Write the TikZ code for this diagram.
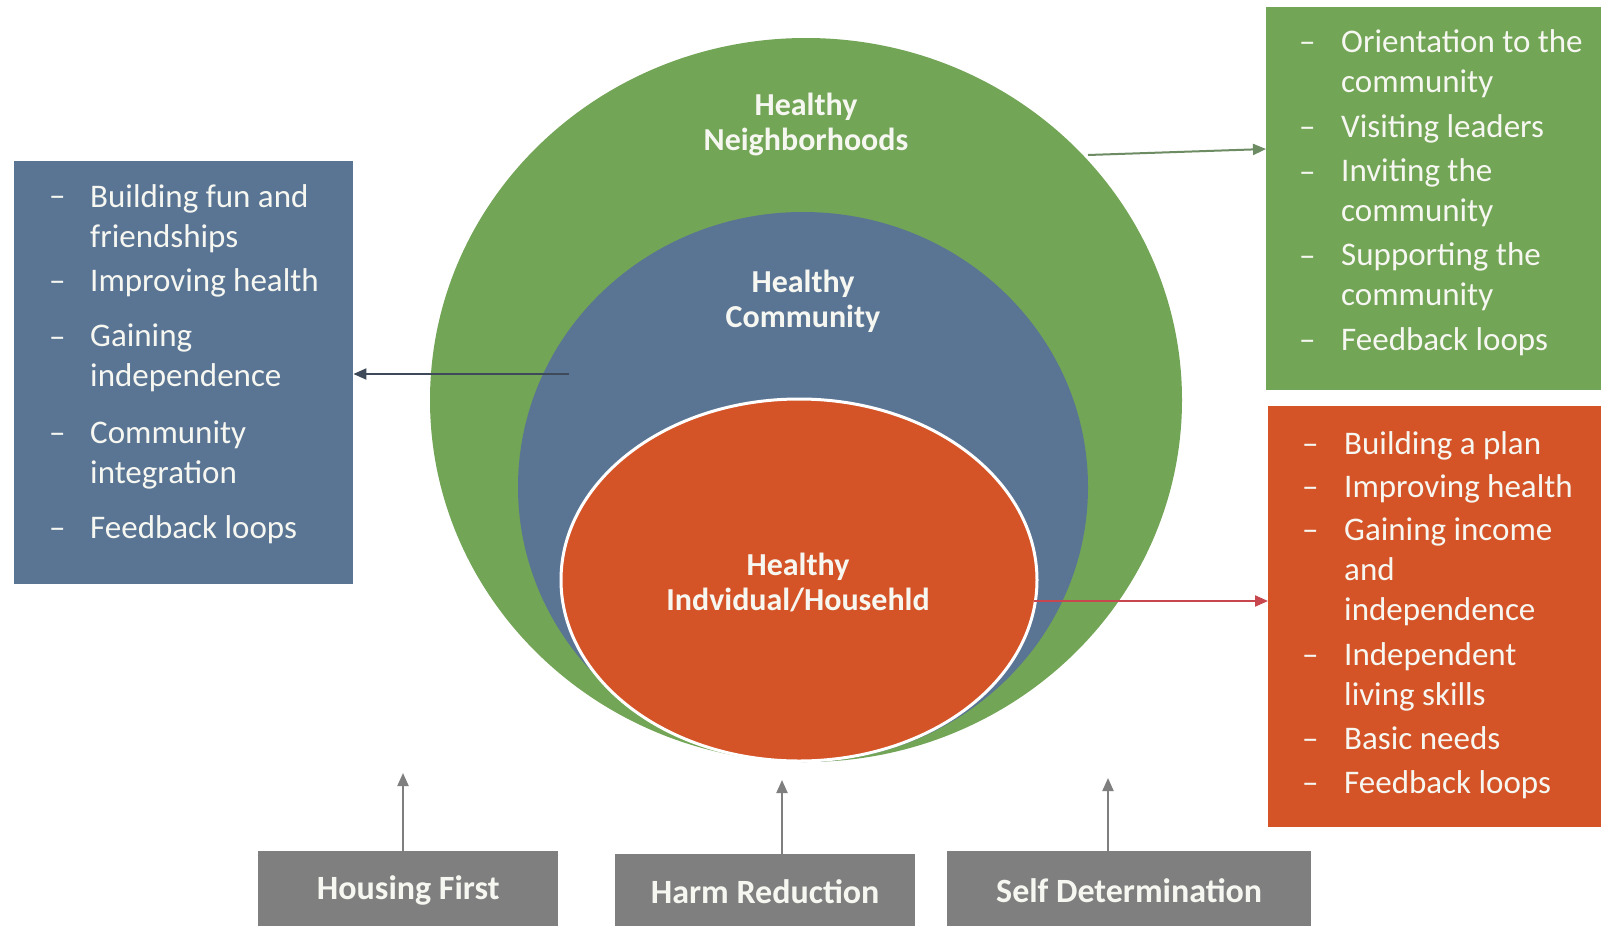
\documentclass[tikz,border=0pt]{standalone}
\usepackage{fontspec}
\setmainfont{Carlito}
\usetikzlibrary{shapes.geometric,arrows.meta,calc}
\definecolor{cgreen}{HTML}{72A556}
\definecolor{cblue}{HTML}{5A7594}
\definecolor{cred}{HTML}{D45428}
\definecolor{cgray}{HTML}{7F7F7F}
\definecolor{ctext}{HTML}{F7F7F2}
\definecolor{agreen}{HTML}{6E8C64}
\definecolor{ablue}{HTML}{3E4A5A}
\definecolor{ared}{HTML}{C8474F}
\begin{document}
\begin{tikzpicture}[x=1pt,y=-1pt,
  bigell/.style={ellipse, inner sep=0pt, draw=none},
  listbox/.style={rectangle, anchor=north west, inner sep=0pt, draw=none},
  itemtext/.style={anchor=base west, align=left, inner sep=0pt, text=ctext, font=\fontsize{33}{40}\selectfont},
  itemdash/.style={anchor=base west, inner sep=0pt, text=ctext, font=\fontsize{33}{40}\selectfont},
  clabel/.style={align=center, inner sep=0pt, text=ctext, font=\bfseries\fontsize{32}{35}\selectfont},
  graybox/.style={rectangle, anchor=north west, fill=cgray, inner sep=0pt, text=ctext, font=\bfseries\fontsize{34}{40}\selectfont},
  conn/.style={line width=2pt, -{Triangle[length=13pt,width=11pt]}}
]
\useasboundingbox (0,0) rectangle (1601,926);
\fill[white] (0,0) rectangle (1601,926);

% nested ellipses
\node[bigell, fill=cgreen, minimum width=752pt, minimum height=724pt] (gcirc) at (806,400) {};
\node[bigell, fill=cblue, minimum width=570pt, minimum height=550pt] (bcirc) at (803,487) {};
\node[bigell, fill=cred, draw=white, line width=3pt, minimum width=476pt, minimum height=362pt] (rcirc) at (799,580) {};

\node[clabel] (lgreen) at (806,124) {Healthy\\Neighborhoods};
\node[clabel] (lblue) at (803,301) {Healthy\\Community};
\node[clabel] (lred) at (798,582) {Healthy\\Indvidual/Househld};

% side boxes
\node[listbox, fill=cblue, minimum width=339pt, minimum height=423pt] (bbox) at (14,161) {};
\node[listbox, fill=cgreen, minimum width=335pt, minimum height=383pt] (gbox) at (1266,7) {};
\node[listbox, fill=cred, minimum width=333pt, minimum height=421pt] (rbox) at (1268,406) {};

% blue list (multi-line texts are placed by the baseline of their last line)
\node[itemdash] (bd1) at (49,206) {–};
\node[itemtext] (bt1) at (90,247) {Building fun and\\friendships};
\node[itemdash] (bd2) at (49,291) {–};
\node[itemtext] (bt2) at (90,291) {Improving health};
\node[itemdash] (bd3) at (49,347) {–};
\node[itemtext] (bt3) at (90,386) {Gaining\\independence};
\node[itemdash] (bd4) at (49,443) {–};
\node[itemtext] (bt4) at (90,483) {Community\\integration};
\node[itemdash] (bd5) at (49,538) {–};
\node[itemtext] (bt5) at (90,538) {Feedback loops};

% green list
\node[itemdash] (gd1) at (1299,52) {–};
\node[itemtext] (gt1) at (1341,92) {Orientation to the\\community};
\node[itemdash] (gd2) at (1299,137) {–};
\node[itemtext] (gt2) at (1341,137) {Visiting leaders};
\node[itemdash] (gd3) at (1299,182) {–};
\node[itemtext] (gt3) at (1341,221) {Inviting the\\community};
\node[itemdash] (gd4) at (1299,266) {–};
\node[itemtext] (gt4) at (1341,305) {Supporting the\\community};
\node[itemdash] (gd5) at (1299,350) {–};
\node[itemtext] (gt5) at (1341,350) {Feedback loops};

% red list
\node[itemdash] (rd1) at (1302,454) {–};
\node[itemtext] (rt1) at (1344,454) {Building a plan};
\node[itemdash] (rd2) at (1302,497) {–};
\node[itemtext] (rt2) at (1344,497) {Improving health};
\node[itemdash] (rd3) at (1302,540) {–};
\node[itemtext] (rt3) at (1344,620) {Gaining income\\and\\independence};
\node[itemdash] (rd4) at (1302,665) {–};
\node[itemtext] (rt4) at (1344,705) {Independent\\living skills};
\node[itemdash] (rd5) at (1302,749) {–};
\node[itemtext] (rt5) at (1344,749) {Basic needs};
\node[itemdash] (rd6) at (1302,793) {–};
\node[itemtext] (rt6) at (1344,793) {Feedback loops};

% principle boxes
\node[graybox, minimum width=300pt, minimum height=78pt] (hf) at (258,851) {Housing First};
\node[graybox, minimum width=300pt, minimum height=75pt] (hr) at (615,854) {Harm Reduction};
\node[graybox, minimum width=364pt, minimum height=78pt] (sd) at (947,851) {Self Determination};

% connectors
\coordinate (gs) at (1088,155);
\coordinate (ge) at ($(gbox.north west)+(0,142)$);
\draw[conn, agreen] (gs) -- (ge);
\coordinate (bs) at (569,374);
\draw[conn, ablue] (bs) -- (bbox.east |- bs);
\coordinate (rs) at (1034,601);
\draw[conn, ared] (rs) -- (rbox.west |- rs);

\coordinate (hft) at (403,773);
\draw[conn, cgray] (hf.north -| hft) -- (hft);
\coordinate (hrt) at (782,780);
\draw[conn, cgray] (hr.north -| hrt) -- (hrt);
\coordinate (sdt) at (1108,778);
\draw[conn, cgray] (sd.north -| sdt) -- (sdt);
\end{tikzpicture}
\end{document}
